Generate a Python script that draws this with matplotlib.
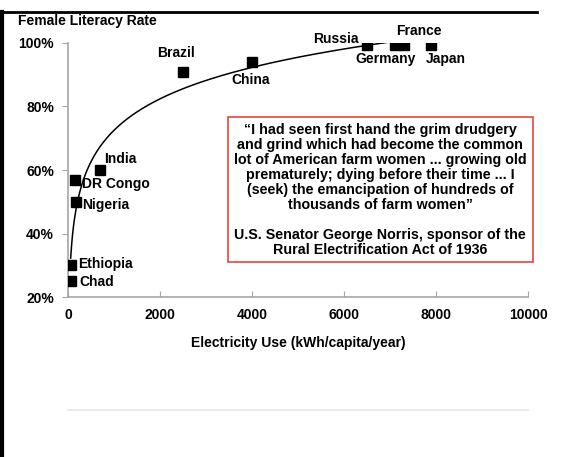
import matplotlib.pyplot as plt
import numpy as np
from matplotlib.patches import Rectangle

plt.rcParams['font.family'] = ['Liberation Sans', 'DejaVu Sans']
plt.rcParams['font.weight'] = 'bold'

# data
countries = ['Chad', 'Ethiopia', 'DR Congo', 'Nigeria', 'India', 'Brazil',
             'China', 'Russia', 'Germany', 'France', 'Japan']
electricity = [60, 60, 150, 170, 700, 2500, 4000, 6500, 7100, 7300, 7900]
literacy = [25, 30, 57, 50, 60, 91, 94, 99.5, 99.5, 99.5, 99.5]

# label placement (offset in pixels, alignment)
label_pos = {
    'Chad': (9, -1, 'left'), 'Ethiopia': (7, 1, 'left'),
    'DR Congo': (7, -4, 'left'), 'Nigeria': (6, -3, 'left'),
    'India': (4, 11, 'left'), 'Brazil': (-7, 19, 'center'),
    'China': (-1, -18, 'center'), 'Russia': (-8, 6, 'right'),
    'Germany': (-9, -14, 'center'), 'France': (15, 14, 'center'),
    'Japan': (14, -14, 'center'),
}

quote = ("\u201cI had seen first hand the grim drudgery\n"
         "and grind which had become the common\n"
         "lot of American farm women ... growing old\n"
         "prematurely; dying before their time ... I\n"
         "(seek) the emancipation of hundreds of\n"
         "thousands of farm women\u201d\n\n"
         "U.S. Senator George Norris, sponsor of the\n"
         "Rural Electrification Act of 1936")

fs = 10
fig = plt.figure(figsize=(5.66, 4.57), dpi=100)
ax = fig.add_axes([0.120, 0.350, 0.813, 0.556])

# log trendline fitted to the points
b, a = np.polyfit(np.log(electricity), literacy, 1)
xs = np.linspace(min(electricity), max(electricity), 400)
ax.plot(xs, a + b * np.log(xs), color='black', lw=1.1, zorder=2)

ax.plot(electricity, literacy, 's', color='black', ms=7.5, zorder=3)
for c, x, y in zip(countries, electricity, literacy):
    dx, dy, ha = label_pos[c]
    ax.annotate(c, (x, y), xytext=(dx, dy), textcoords='offset pixels',
                ha=ha, va='center', fontsize=fs, fontweight='bold')

ax.set_xlim(0, 10000)
ax.set_ylim(20, 100)
ax.set_xticks([0, 2000, 4000, 6000, 8000, 10000])
ax.set_yticks([20, 40, 60, 80, 100])
ax.set_yticklabels(['20%', '40%', '60%', '80%', '100%'])
for s in ['top', 'right']:
    ax.spines[s].set_visible(False)
for s in ['left', 'bottom']:
    ax.spines[s].set_color('#a6a6a6')
    ax.spines[s].set_linewidth(1.2)
ax.tick_params(axis='y', direction='out', length=4, color='#a6a6a6',
               labelsize=fs, pad=6)
ax.tick_params(axis='x', direction='in', length=4, color='#a6a6a6',
               labelsize=fs, pad=8)
for t in ax.get_xticklabels() + ax.get_yticklabels():
    t.set_fontweight('bold')
ax.set_xlabel('Electricity Use (kWh/capita/year)', fontsize=fs,
              fontweight='bold', labelpad=10)
ax.patch.set_alpha(0)

fig.text(18 / 566, 1 - 21 / 457, 'Female Literacy Rate', fontsize=fs,
         fontweight='bold', va='center', ha='left')

# quote box
fig.patches.append(Rectangle((228 / 566, 1 - 262 / 457), 305 / 566, 145 / 457,
                             transform=fig.transFigure, fill=False,
                             edgecolor='#e8473f', lw=1.2))
fig.text(380 / 566, 1 - 190 / 457, quote, fontsize=10.3, fontweight='bold',
         ha='center', va='center', linespacing=1.1)

# screenshot frame and faint reflection
fig.add_artist(plt.Line2D([0, 537 / 566], [1 - 12 / 457] * 2,
                          transform=fig.transFigure, color='black', lw=2))
fig.add_artist(plt.Line2D([1.5 / 566] * 2, [0, 1 - 12 / 457],
                          transform=fig.transFigure, color='black', lw=3))
yr = 1 - 410 / 457
fig.add_artist(plt.Line2D([68 / 566, 528 / 566], [yr, yr],
                          transform=fig.transFigure, color='#e6e6e6', lw=1.2))

fig.savefig('out.png', dpi=100)
